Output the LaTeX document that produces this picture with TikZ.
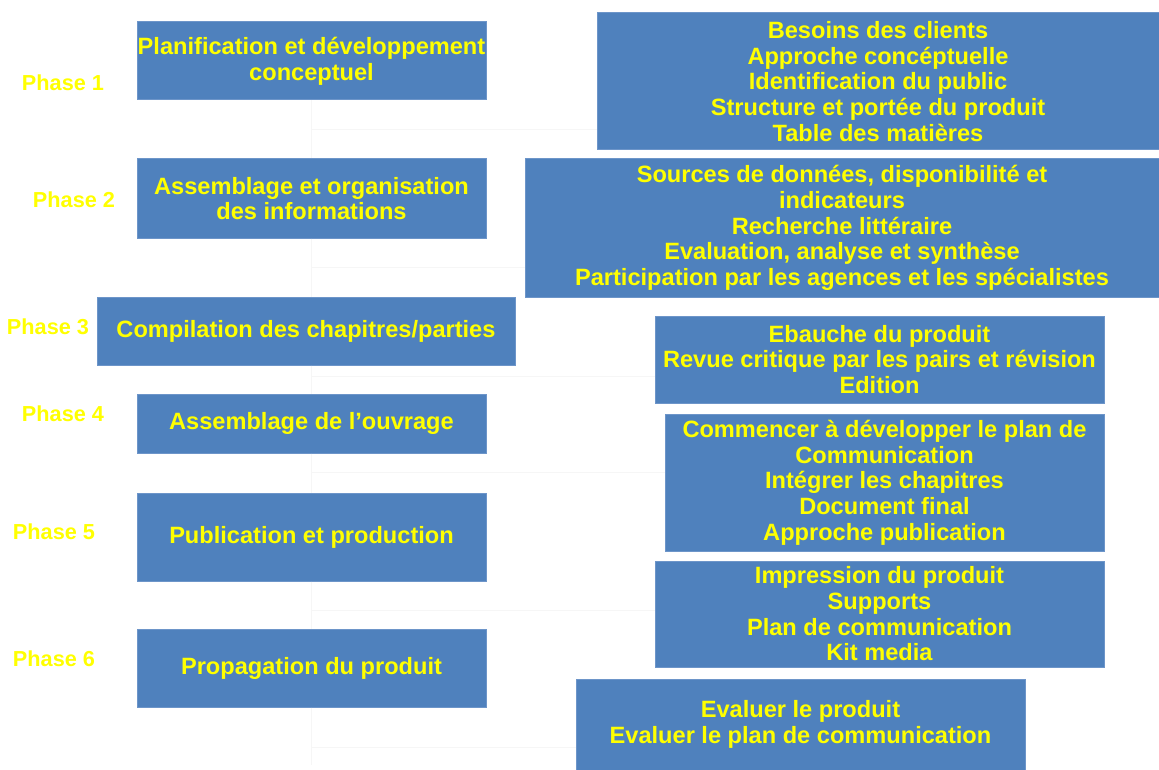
\documentclass[tikz,border=0pt]{standalone}
\usepackage{fontspec}
\setmainfont{Liberation Sans}
\usetikzlibrary{positioning}
\definecolor{boxblue}{HTML}{4F81BD}
\definecolor{boxedge}{HTML}{6D95C9}
\definecolor{phaseyellow}{HTML}{FFFF00}

\begin{document}
\begin{tikzpicture}[
  x=1pt, y=-1pt,
  every node/.style={font=\bfseries\fontsize{23.6}{25.7}\selectfont, text=phaseyellow},
  stage/.style={rectangle, draw=boxedge, fill=boxblue, line width=1pt, minimum width=349pt, align=center, inner sep=0pt},
  detail/.style={rectangle, draw=boxedge, fill=boxblue, line width=1pt, align=center, inner sep=0pt},
  phase/.style={font=\bfseries\fontsize{21.7}{24}\selectfont},
  link/.style={line width=1pt, gray!7}
]
\useasboundingbox (0,0) rectangle (1159,770);

% Phases
\node[phase] (p1) at (63,83)  {Phase 1};
\node[phase] (p2) at (74,200) {Phase 2};
\node[phase] (p3) at (48,327) {Phase 3};
\node[phase] (p4) at (63,414) {Phase 4};
\node[phase] (p5) at (54,532) {Phase 5};
\node[phase] (p6) at (54,659) {Phase 6};

% Stages
\node[stage, minimum height=78pt] (l1) at (311.5,61) {Planification et développement\\ conceptuel};
\node[stage, minimum height=79pt] (l2) at (311.5,198.5) {Assemblage et organisation\\ des informations};
\node[stage, minimum width=418pt, minimum height=68pt] (l3) at (306,331) {Compilation des chapitres/parties};
\node[stage, minimum height=59pt] (l4) at (311.5,423.5) {Assemblage de l’ouvrage};
\node[stage, minimum height=88pt] (l5) at (311.5,537) {Publication et production};
\node[stage, minimum height=78pt] (l6) at (311.5,668) {Propagation du produit};

% Details
\node[detail, minimum width=562pt, minimum height=137pt] (r1) at (878,81.5) {Besoins des clients\\ Approche concéptuelle\\ Identification du public\\ Structure et portée du produit\\ Table des matières};
\node[detail, minimum width=634pt, minimum height=138pt] (r2) at (842,228) {Sources de données, disponibilité et\\ indicateurs\\ Recherche littéraire\\ Evaluation, analyse et synthèse\\ Participation par les agences et les spécialistes};
\node[detail, minimum width=449pt, minimum height=87pt] (r3) at (879.5,359.5) {Ebauche du produit\\ Revue critique par les pairs et révision\\ Edition};
\node[detail, minimum width=439pt, minimum height=137pt] (r4) at (884.5,482.5) {Commencer à développer le plan de\\ Communication\\ Intégrer les chapitres\\ Document final\\ Approche publication};
\node[detail, minimum width=449pt, minimum height=106pt] (r5) at (879.5,614) {Impression du produit\\ Supports\\ Plan de communication\\ Kit media};
\node[detail, minimum width=449pt, minimum height=91pt] (r6) at (800.5,724.5) {Evaluer le produit\\ Evaluer le plan de communication};

% Links
\coordinate (k1) at (311.5,130);
\coordinate (k2) at (311.5,267);
\coordinate (k3) at (311.5,376);
\coordinate (k4) at (311.5,472);
\coordinate (k5) at (311.5,610);
\coordinate (k6) at (311.5,747);
\coordinate (end) at (311.5,765);

\draw[link] (l1.south) -- (l2.north);
\draw[link] (l2.south) -- (l2.south |- l3.north);
\draw[link] (l2.south |- l3.south) -- (l4.north);
\draw[link] (l4.south) -- (l5.north);
\draw[link] (l5.south) -- (l6.north);
\draw[link] (l6.south) -- (end);

\draw[link] (k1) -- (k1 -| r1.west);
\draw[link] (k2) -- (k2 -| r2.west);
\draw[link] (k3) -- (k3 -| r3.west);
\draw[link] (k4) -- (k4 -| r4.west);
\draw[link] (k5) -- (k5 -| r5.west);
\draw[link] (k6) -- (k6 -| r6.west);

\end{tikzpicture}
\end{document}
